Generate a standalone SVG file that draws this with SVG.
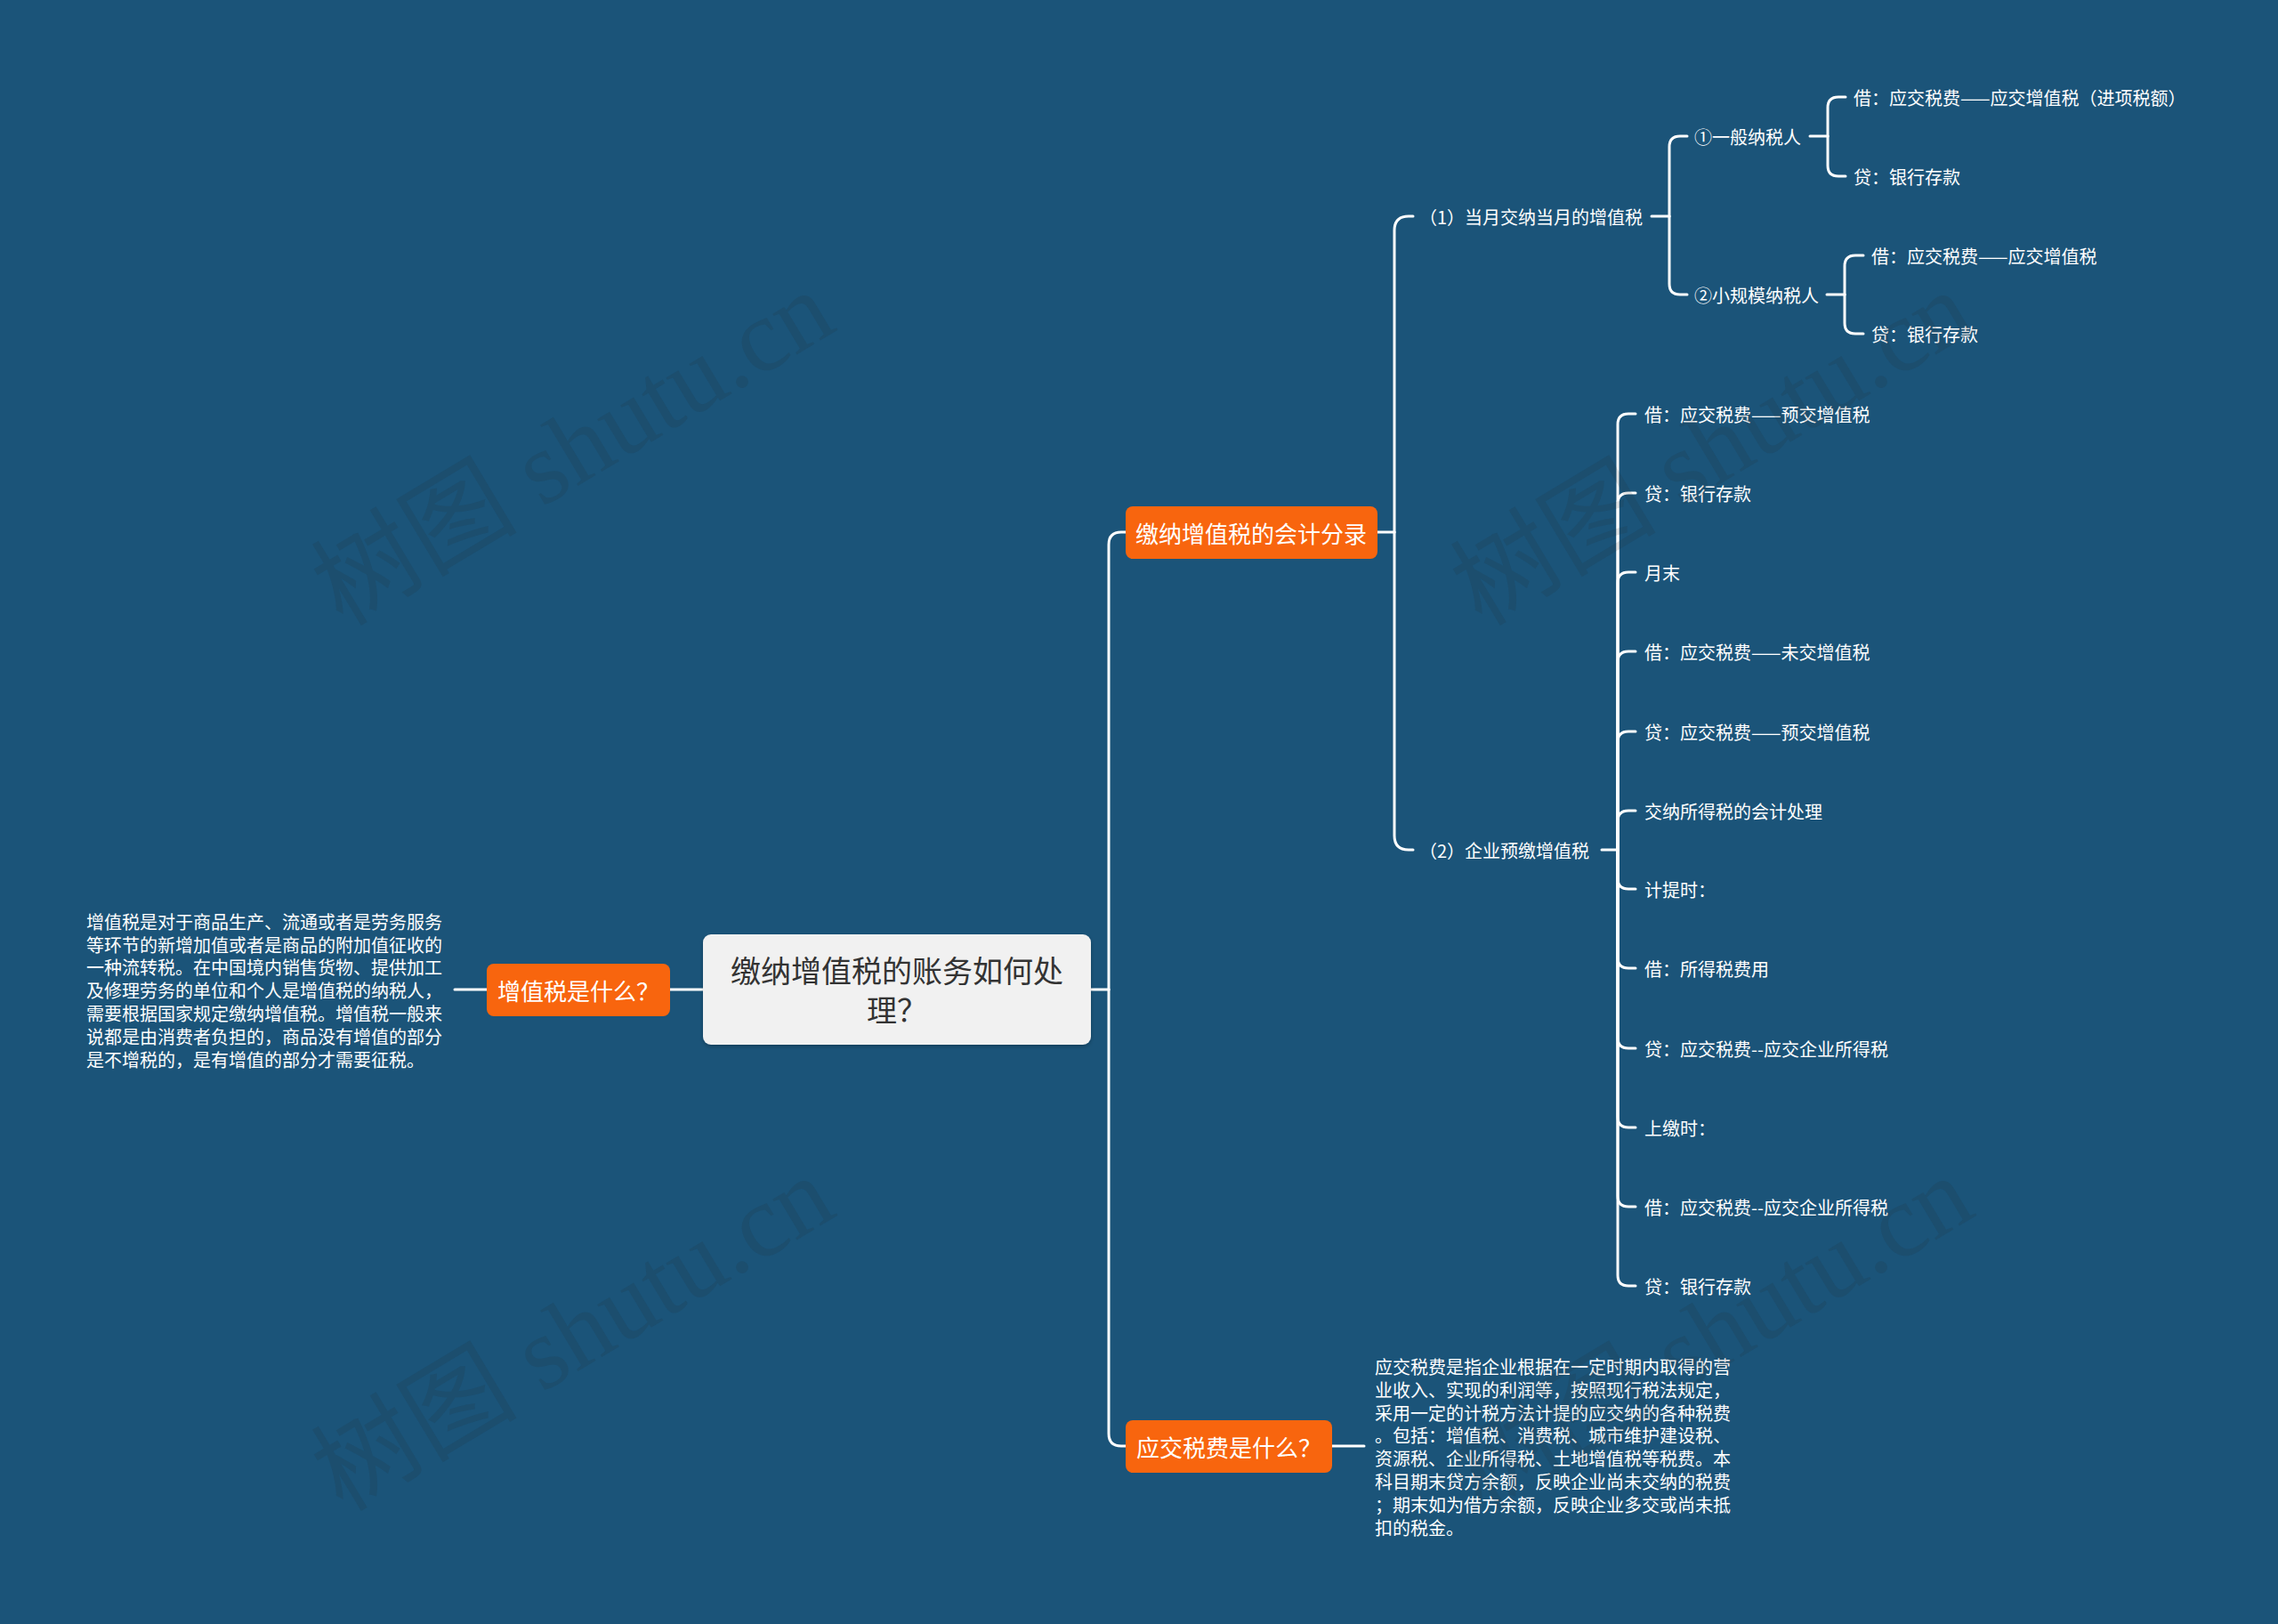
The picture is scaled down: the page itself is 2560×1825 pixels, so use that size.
<svg xmlns="http://www.w3.org/2000/svg" width="2560" height="1825" viewBox="0 0 2560 1825">
<defs>
<style>
.cjk{font-family:"Noto Sans CJK SC","Noto Sans",sans-serif;}
.leaf{font-family:"Noto Sans CJK SC","Noto Sans",sans-serif;font-size:20px;fill:#ffffff;dominant-baseline:central;}
.para{font-family:"Noto Sans CJK SC","Noto Sans",sans-serif;font-size:20px;fill:#ffffff;dominant-baseline:central;}
.orange rect{fill:#f8650e;}
.orange text{font-family:"Noto Sans CJK SC","Noto Sans",sans-serif;font-size:26px;fill:#ffffff;text-anchor:middle;dominant-baseline:central;}
.wm{font-family:"Liberation Serif","Noto Sans CJK SC",serif;font-size:116px;fill:#282828;fill-opacity:0.13;}
</style>
<filter id="sh" x="-10%" y="-10%" width="120%" height="130%">
<feDropShadow dx="0" dy="2" stdDeviation="2" flood-color="#000" flood-opacity="0.25"/>
</filter>
</defs>
<rect x="0" y="0" width="2560" height="1825" fill="#1b5479"/>

<g id="connectors" fill="none" stroke="#ffffff" stroke-width="3" stroke-linecap="round">
<path d="M790 1112 H753"/>
<path d="M547 1112 H511"/>
<path d="M1226 1112 H1246"/>
<path d="M1246 1112 V612 Q1246 598 1260 598 H1265"/>
<path d="M1246 1112 V1611 Q1246 1625 1260 1625 H1265"/>
<path d="M1497 1625 H1533"/>
<path d="M1548 598 H1567"/>
<path d="M1567 598 V259 Q1567 243 1583 243 H1588"/>
<path d="M1567 598 V939 Q1567 955 1583 955 H1588"/>
<path d="M1856 243 H1876"/>
<path d="M1876 243 V165 Q1876 153 1888 153 H1896"/>
<path d="M1876 243 V319 Q1876 331 1888 331 H1896"/>
<path d="M2034 153 H2054"/>
<path d="M2054 153 V121 Q2054 109 2066 109 H2074"/>
<path d="M2054 153 V186 Q2054 198 2066 198 H2074"/>
<path d="M2053 331 H2073"/>
<path d="M2073 331 V299 Q2073 287 2085 287 H2094"/>
<path d="M2073 331 V363 Q2073 375 2085 375 H2094"/>
<path d="M1800 955 H1818"/>
<path d="M1818 955 V477 Q1818 465 1830 465 H1838"/>
<path d="M1818 955 V566 Q1818 554 1830 554 H1838"/>
<path d="M1818 955 V655 Q1818 643 1830 643 H1838"/>
<path d="M1818 955 V744 Q1818 732 1830 732 H1838"/>
<path d="M1818 955 V834 Q1818 822 1830 822 H1838"/>
<path d="M1818 955 V923 Q1818 911 1830 911 H1838"/>
<path d="M1818 955 V987 Q1818 999 1830 999 H1838"/>
<path d="M1818 955 V1076 Q1818 1088 1830 1088 H1838"/>
<path d="M1818 955 V1166 Q1818 1178 1830 1178 H1838"/>
<path d="M1818 955 V1255 Q1818 1267 1830 1267 H1838"/>
<path d="M1818 955 V1344 Q1818 1356 1830 1356 H1838"/>
<path d="M1818 955 V1433 Q1818 1445 1830 1445 H1838"/>
</g>

<g id="root">
<rect x="790" y="1050" width="436" height="124" rx="9" fill="#f1f1f1" filter="url(#sh)"/>
<text class="cjk" x="1008" y="1089" font-size="34" fill="#333333" text-anchor="middle" dominant-baseline="central">缴纳增值税的账务如何处</text>
<text class="cjk" x="1008" y="1133" font-size="34" fill="#333333" text-anchor="middle" dominant-baseline="central">理？</text>
</g>

<g id="n-vat-what" class="orange">
<rect x="547" y="1083" width="206" height="59" rx="8"/>
<text x="650" y="1112">增值税是什么？</text>
</g>
<g id="n-vat-desc">
<text class="para" x="97" y="1035">增值税是对于商品生产、流通或者是劳务服务</text>
<text class="para" x="97" y="1061">等环节的新增加值或者是商品的附加值征收的</text>
<text class="para" x="97" y="1086">一种流转税。在中国境内销售货物、提供加工</text>
<text class="para" x="97" y="1112">及修理劳务的单位和个人是增值税的纳税人，</text>
<text class="para" x="97" y="1138">需要根据国家规定缴纳增值税。增值税一般来</text>
<text class="para" x="97" y="1164">说都是由消费者负担的，商品没有增值的部分</text>
<text class="para" x="97" y="1190">是不增税的，是有增值的部分才需要征税。</text>
</g>

<g id="n-entries" class="orange">
<rect x="1265" y="569" width="283" height="59" rx="8"/>
<text x="1406" y="598">缴纳增值税的会计分录</text>
</g>

<g id="n-tax-what" class="orange">
<rect x="1265" y="1596" width="232" height="59" rx="8"/>
<text x="1381" y="1625">应交税费是什么？</text>
</g>
<g id="n-tax-desc">
<text class="para" x="1545" y="1535">应交税费是指企业根据在一定时期内取得的营</text>
<text class="para" x="1545" y="1561">业收入、实现的利润等，按照现行税法规定，</text>
<text class="para" x="1545" y="1587">采用一定的计税方法计提的应交纳的各种税费</text>
<text class="para" x="1545" y="1612">。包括：增值税、消费税、城市维护建设税、</text>
<text class="para" x="1545" y="1638">资源税、企业所得税、土地增值税等税费。本</text>
<text class="para" x="1545" y="1664">科目期末贷方余额，反映企业尚未交纳的税费</text>
<text class="para" x="1545" y="1690">；期末如为借方余额，反映企业多交或尚未抵</text>
<text class="para" x="1545" y="1716">扣的税金。</text>
</g>

<g id="n-1"><text class="leaf" x="1595" y="243">（1）当月交纳当月的增值税</text></g>
<g id="n-1a"><text class="leaf" x="1904" y="153">①一般纳税人</text></g>
<g id="n-1a1"><text class="leaf" x="2083" y="109">借：应交税费——应交增值税（进项税额）</text></g>
<g id="n-1a2"><text class="leaf" x="2083" y="198">贷：银行存款</text></g>
<g id="n-1b"><text class="leaf" x="1904" y="331">②小规模纳税人</text></g>
<g id="n-1b1"><text class="leaf" x="2103" y="287">借：应交税费——应交增值税</text></g>
<g id="n-1b2"><text class="leaf" x="2103" y="375">贷：银行存款</text></g>

<g id="n-2"><text class="leaf" x="1595" y="955">（2）企业预缴增值税</text></g>
<g id="n-2-1"><text class="leaf" x="1848" y="465">借：应交税费——预交增值税</text></g>
<g id="n-2-2"><text class="leaf" x="1848" y="554">贷：银行存款</text></g>
<g id="n-2-3"><text class="leaf" x="1848" y="643">月末</text></g>
<g id="n-2-4"><text class="leaf" x="1848" y="732">借：应交税费——未交增值税</text></g>
<g id="n-2-5"><text class="leaf" x="1848" y="822">贷：应交税费——预交增值税</text></g>
<g id="n-2-6"><text class="leaf" x="1848" y="911">交纳所得税的会计处理</text></g>
<g id="n-2-7"><text class="leaf" x="1848" y="999">计提时：</text></g>
<g id="n-2-8"><text class="leaf" x="1848" y="1088">借：所得税费用</text></g>
<g id="n-2-9"><text class="leaf" x="1848" y="1178">贷：应交税费--应交企业所得税</text></g>
<g id="n-2-10"><text class="leaf" x="1848" y="1267">上缴时：</text></g>
<g id="n-2-11"><text class="leaf" x="1848" y="1356">借：应交税费--应交企业所得税</text></g>
<g id="n-2-12"><text class="leaf" x="1848" y="1445">贷：银行存款</text></g>

<g id="watermarks">
<text class="wm" transform="translate(385 705) rotate(-31)">树图 shutu.cn</text>
<text class="wm" transform="translate(385 1700) rotate(-31)">树图 shutu.cn</text>
<text class="wm" transform="translate(1665 705) rotate(-31)">树图 shutu.cn</text>
<text class="wm" transform="translate(1665 1700) rotate(-31)">树图 shutu.cn</text>
</g>
</svg>
